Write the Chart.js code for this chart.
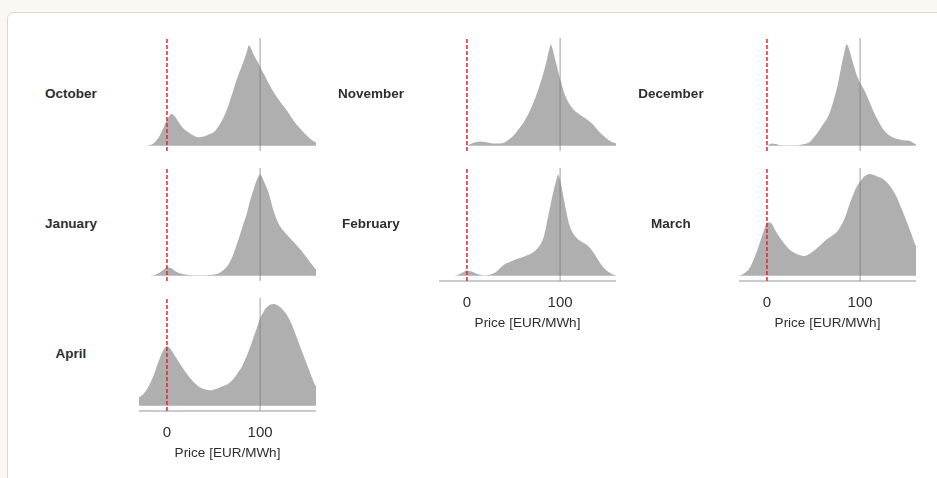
<!DOCTYPE html>
<html>
<head>
<meta charset="utf-8">
<script src="https://cdn.jsdelivr.net/npm/chart.js@4"></script>
<style>
  body { margin: 0; width: 937px; height: 478px; overflow: hidden; background: #f9f8f3; font-family: "Liberation Sans", Arial, sans-serif; }
  .card { position: absolute; left: 7px; top: 12px; width: 960px; height: 500px; background: #fff; border: 1.5px solid #dcd9cd; border-radius: 7px; }
  .panel { position: absolute; }
  .mes { position: absolute; width: 120px; margin-left: -60px; text-align: center; font-weight: bold; font-size: 13.5px; color: #2e2e2e; line-height: 16px; margin-top: -8px; }
</style>
</head>
<body>
<div class="card"></div>

<script>
// grade de preços (EUR/MWh) onde a densidade foi lida
const precos = [-30, -25, -20, -15, -10, -5, 0, 5, 10, 15, 20, 25, 30, 35, 40, 45, 50, 55, 60, 65, 70, 75, 80,
  82.5, 85, 87.5, 90, 92.5, 95, 97.5, 100, 102.5, 105,
  110, 115, 120, 125, 130, 135, 140, 145, 150, 155, 160]

const meses = ['October', 'November', 'December', 'January', 'February', 'March', 'April']

// densidade relativa (pico = 1) de cada mês
const outubro = [0, 0, 0.01, 0.03, 0.08, 0.17, 0.27, 0.32, 0.28, 0.21, 0.16, 0.13, 0.10, 0.09, 0.10, 0.12, 0.14, 0.20, 0.28, 0.39, 0.53, 0.67, 0.79,
  0.85, 0.92, 0.99, 0.97, 0.92, 0.87, 0.83, 0.79, 0.74, 0.70,
  0.61, 0.53, 0.46, 0.40, 0.34, 0.27, 0.21, 0.16, 0.11, 0.07, 0.04]
const novembro = [0, 0, 0, 0, 0, 0.005, 0.01, 0.03, 0.045, 0.05, 0.045, 0.035, 0.03, 0.03, 0.04, 0.07, 0.11, 0.17, 0.23, 0.31, 0.41, 0.53, 0.67,
  0.75, 0.84, 0.94, 1.0, 0.95, 0.86, 0.77, 0.68, 0.60, 0.52,
  0.42, 0.36, 0.32, 0.29, 0.26, 0.22, 0.17, 0.12, 0.08, 0.05, 0.03]
const dezembro = [0, 0, 0, 0, 0, 0, 0.01, 0.03, 0.025, 0.012, 0.01, 0.01, 0.01, 0.015, 0.025, 0.04, 0.09, 0.15, 0.22, 0.29, 0.42, 0.59, 0.82,
  0.92, 1.0, 0.98, 0.91, 0.83, 0.75, 0.68, 0.63, 0.59, 0.55,
  0.45, 0.34, 0.25, 0.17, 0.12, 0.09, 0.075, 0.065, 0.06, 0.05, 0.02]
const janeiro = [0, 0, 0.005, 0.01, 0.03, 0.06, 0.09, 0.08, 0.05, 0.03, 0.02, 0.015, 0.01, 0.01, 0.01, 0.015, 0.02, 0.03, 0.06, 0.11, 0.20, 0.33, 0.47,
  0.54, 0.61, 0.70, 0.78, 0.85, 0.92, 0.97, 1.0, 0.97, 0.92,
  0.81, 0.64, 0.52, 0.45, 0.40, 0.35, 0.30, 0.25, 0.19, 0.13, 0.07]
const fevereiro = [0, 0, 0, 0.005, 0.015, 0.04, 0.06, 0.05, 0.03, 0.015, 0.01, 0.02, 0.04, 0.08, 0.12, 0.14, 0.16, 0.175, 0.19, 0.21, 0.23, 0.27, 0.34,
  0.41, 0.52, 0.63, 0.74, 0.84, 0.93, 1.0, 0.96, 0.86, 0.74,
  0.52, 0.41, 0.36, 0.33, 0.30, 0.25, 0.18, 0.11, 0.06, 0.03, 0.01]
const marco = [0.005, 0.03, 0.07, 0.16, 0.28, 0.42, 0.53, 0.52, 0.44, 0.37, 0.31, 0.26, 0.23, 0.21, 0.20, 0.22, 0.25, 0.29, 0.33, 0.37, 0.40, 0.44, 0.51,
  0.56, 0.62, 0.69, 0.75, 0.81, 0.86, 0.90, 0.93, 0.96, 0.98,
  1.0, 0.99, 0.97, 0.95, 0.91, 0.85, 0.77, 0.66, 0.55, 0.43, 0.30]
const abril = [0.09, 0.13, 0.20, 0.30, 0.43, 0.54, 0.59, 0.55, 0.48, 0.41, 0.34, 0.28, 0.23, 0.19, 0.17, 0.16, 0.165, 0.18, 0.20, 0.22, 0.26, 0.32, 0.39,
  0.44, 0.49, 0.55, 0.61, 0.68, 0.74, 0.81, 0.87, 0.91, 0.95,
  0.99, 1.0, 0.98, 0.94, 0.88, 0.79, 0.67, 0.55, 0.43, 0.31, 0.20]

const marcasPreco = [0, 100]
const linhaZero = 0
const linhaCem = 100
const tituloEixo = 'Price [EUR/MWh]'

// col, linha, série, mostra eixo?
const paineis = [
  { mes: 'October', col: 0, lin: 0, dados: outubro, eixo: false },
  { mes: 'November', col: 1, lin: 0, dados: novembro, eixo: false },
  { mes: 'December', col: 2, lin: 0, dados: dezembro, eixo: false },
  { mes: 'January', col: 0, lin: 1, dados: janeiro, eixo: false },
  { mes: 'February', col: 1, lin: 1, dados: fevereiro, eixo: true },
  { mes: 'March', col: 2, lin: 1, dados: marco, eixo: true },
  { mes: 'April', col: 0, lin: 2, dados: abril, eixo: true }
]

const colEsq = [139, 439, 739]
const linTopo = [38, 168, 298]
const largura = 177
const altura = 113
const alturaEixo = 60
const yMin = -0.05
const yMax = 1.05

function criaPainel(p) {

  let div = document.createElement('div')
  div.className = 'panel'
  div.style.left = colEsq[p.col] + 'px'
  div.style.top = linTopo[p.lin] + 'px'
  div.style.width = largura + 'px'
  div.style.height = (altura + (p.eixo ? alturaEixo : 0)) + 'px'
  let canvas = document.createElement('canvas')
  div.appendChild(canvas)
  document.body.appendChild(div)

  let rotulo = document.createElement('div')
  rotulo.className = 'mes'
  rotulo.textContent = p.mes
  rotulo.style.left = (colEsq[p.col] - 68) + 'px'
  rotulo.style.top = (linTopo[p.lin] + 56) + 'px'
  document.body.appendChild(rotulo)

  new Chart(canvas, {
    type: 'line',
    data: {
      datasets: [
        {
          data: [{ x: linhaZero, y: yMin }, { x: linhaZero, y: yMax }],
          borderColor: '#e3262b',
          borderWidth: 1.5,
          borderDash: [4, 2],
          pointRadius: 0,
          fill: false
        },
        {
          data: [{ x: linhaCem, y: yMin }, { x: linhaCem, y: yMax }],
          borderColor: 'rgba(120,120,120,0.6)',
          borderWidth: 1.2,
          pointRadius: 0,
          fill: false
        },
        {
          data: precos.map((x, i) => ({ x: x, y: p.dados[i] })),
          borderColor: '#ffffff',
          borderWidth: 1.5,
          backgroundColor: '#afafaf',
          fill: 'origin',
          pointRadius: 0,
          cubicInterpolationMode: 'monotone'
        }
      ]
    },
    options: {
      responsive: true,
      maintainAspectRatio: false,
      animation: false,
      events: [],
      layout: { padding: 0 },
      plugins: { legend: { display: false }, tooltip: { enabled: false } },
      scales: {
        x: {
          type: 'linear',
          min: -30,
          max: 160,
          display: p.eixo,
          afterBuildTicks: (eixo) => { eixo.ticks = marcasPreco.map(v => ({ value: v })) },
          afterFit: (eixo) => { if (p.eixo) eixo.height = alturaEixo },
          grid: { display: false, drawTicks: false },
          border: { display: true, color: '#cbcbcb', width: 2 },
          ticks: {
            color: '#2e2e2e',
            padding: 13,
            maxRotation: 0,
            autoSkip: false,
            font: { family: 'Liberation Sans', size: 15 }
          },
          title: {
            display: true,
            text: tituloEixo,
            color: '#2e2e2e',
            font: { family: 'Liberation Sans', size: 13.5 },
            padding: { top: 0, bottom: 10 }
          }
        },
        y: { min: yMin, max: yMax, display: false }
      }
    }
  })

}

paineis.forEach(criaPainel)
</script>
</body>
</html>
